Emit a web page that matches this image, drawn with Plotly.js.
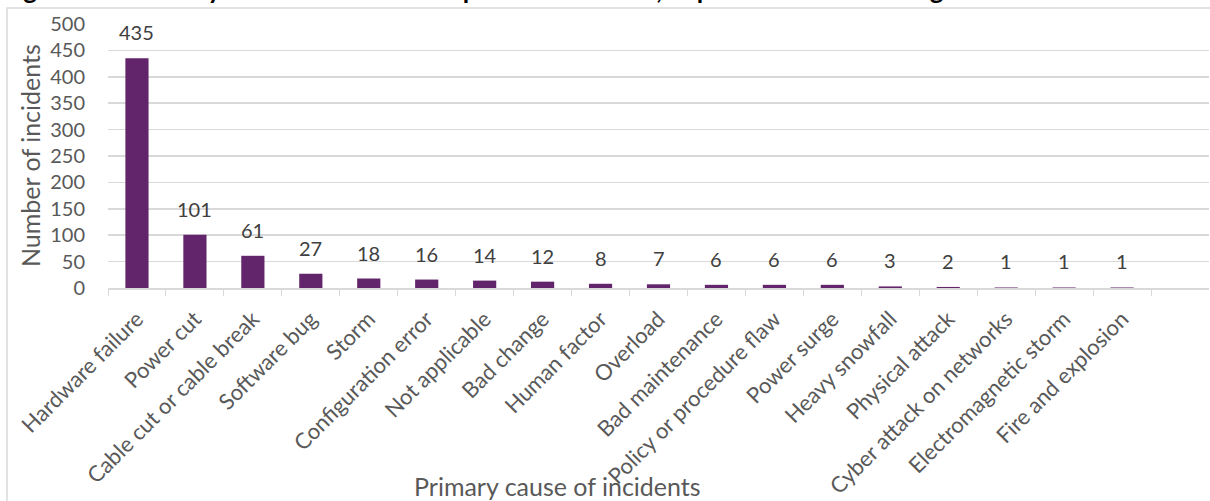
<!DOCTYPE html>
<html>
<head>
<meta charset="utf-8">
<script src="https://cdn.plot.ly/plotly-3.0.1.min.js"></script>
<style>
  html, body { margin: 0; padding: 0; background: #ffffff; }
  #chart { width: 1210px; height: 501px; }
</style>
</head>
<body>
<div id="chart"></div>
<script>
const chartTitle = "Figure 5.9: Primary cause of incidents reported to Ofcom, September 2017 to August 2018";
const xAxisTitle = "Primary cause of incidents";
const yAxisTitle = "Number of incidents";

const categories = [
  "Hardware failure", "Power cut", "Cable cut or cable break", "Software bug",
  "Storm", "Configuration error", "Not applicable", "Bad change",
  "Human factor", "Overload", "Bad maintenance", "Policy or procedure flaw",
  "Power surge", "Heavy snowfall", "Physical attack", "Cyber attack on networks",
  "Electromagnetic storm", "Fire and explosion"
];
const incidents = [435, 101, 61, 27, 18, 16, 14, 12, 8, 7, 6, 6, 6, 3, 2, 1, 1, 1];
const yTicks = [0, 50, 100, 150, 200, 250, 300, 350, 400, 450, 500];

const FONT = "Lato, 'Open Sans', sans-serif";
const barColor = "#62246A";

const W = 1210, H = 501;
const M = { l: 108, r: 1, t: 24, b: 213 };
const plotW = W - M.l - M.r, plotH = H - M.t - M.b;
const px2x = px => (px - M.l) / plotW;
const py2y = py => (H - M.b - py) / plotH;

const trace = {
  type: "bar",
  x: categories,
  y: incidents,
  width: 0.4,
  marker: { color: barColor },
  hoverinfo: "x+y"
};

const labelAnnotations = categories.map((c, i) => ({
  x: c, y: incidents[i], xref: "x", yref: "y",
  text: String(incidents[i]), showarrow: false,
  yanchor: "bottom", yshift: 12,
  font: { family: FONT, size: 20, color: "#404040" }
}));

const layout = {
  width: W, height: H,
  margin: M,
  paper_bgcolor: "#ffffff",
  plot_bgcolor: "#ffffff",
  showlegend: false,
  xaxis: {
    type: "category",
    categoryorder: "array",
    categoryarray: categories,
    range: [-0.5, categories.length + 0.5],
    tickangle: -45,
    tickson: "boundaries",
    ticks: "outside",
    ticklen: 6,
    tickcolor: "#d9d9d9",
    ticklabelstandoff: 8,
    showline: true,
    linecolor: "#d9d9d9",
    linewidth: 1.5,
    showgrid: false,
    zeroline: false,
    tickfont: { family: FONT, size: 22, color: "#595959" },
    automargin: false
  },
  yaxis: {
    range: [0, 500],
    tickvals: yTicks,
    ticktext: yTicks.map(String),
    showgrid: true,
    gridcolor: "#d9d9d9",
    gridwidth: 1.5,
    zeroline: false,
    showline: false,
    ticks: "",
    ticklabelstandoff: 22,
    tickfont: { family: FONT, size: 20, color: "#595959" },
    automargin: false
  },
  shapes: [{
    type: "rect", xref: "paper", yref: "paper",
    x0: px2x(7), x1: px2x(1300), y0: py2y(600), y1: py2y(8),
    line: { color: "#d9d9d9", width: 1.5 },
    fillcolor: "rgba(0,0,0,0)",
    layer: "below"
  }],
  annotations: labelAnnotations.concat([
    {
      text: "<b>" + chartTitle + "</b>", showarrow: false,
      xref: "paper", yref: "paper", x: px2x(0), y: py2y(-11),
      xanchor: "left", yanchor: "middle",
      font: { family: FONT, size: 26, color: "#000000" }
    },
    {
      text: yAxisTitle, showarrow: false, textangle: -90,
      xref: "paper", yref: "paper", x: px2x(30), y: py2y(156),
      xanchor: "center", yanchor: "middle",
      font: { family: FONT, size: 25, color: "#595959" }
    },
    {
      text: xAxisTitle, showarrow: false,
      xref: "paper", yref: "paper", x: px2x(557), y: py2y(486),
      xanchor: "center", yanchor: "middle",
      font: { family: FONT, size: 25, color: "#595959" }
    }
  ])
};

Plotly.newPlot("chart", [trace], layout, { displayModeBar: false, staticPlot: true });
</script>
</body>
</html>
